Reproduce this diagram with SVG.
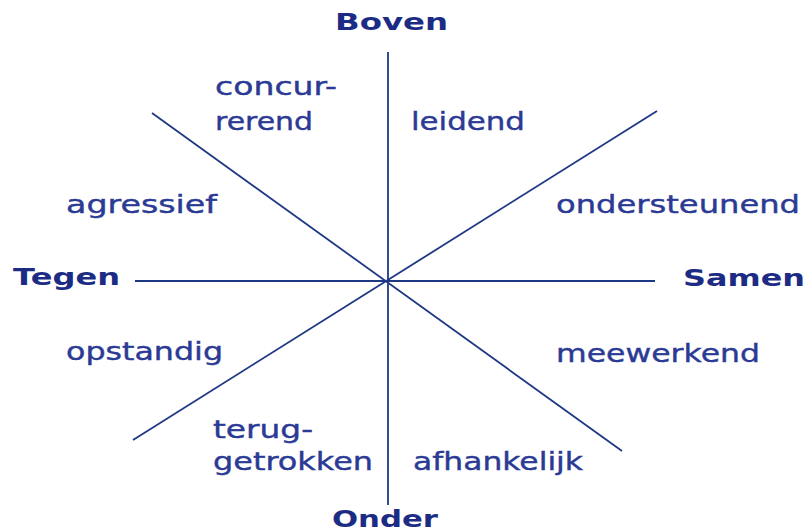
<svg xmlns="http://www.w3.org/2000/svg" width="810" height="532" viewBox="0 0 810 532">
<style>
.ax{fill:#1c2c84;font-family:"DejaVu Sans",Verdana,sans-serif;font-weight:bold;font-size:23px}
.lb{fill:#2b3a94;stroke:#2b3a94;stroke-width:0.4;font-family:"DejaVu Sans",Verdana,sans-serif;font-size:25px}
.ln{stroke:#1f3884;stroke-width:1.8;fill:none}
</style>
<rect width="810" height="532" fill="#ffffff"/>
<g id="connectors">
<line class="ln" x1="388" y1="52" x2="388" y2="505"/>
<line class="ln" x1="135" y1="281" x2="655" y2="281"/>
<line class="ln" x1="152" y1="113" x2="622" y2="451"/>
<line class="ln" x1="133" y1="440" x2="657" y2="111"/>
</g>
<g id="boven"><text class="ax" x="335" y="30" textLength="113" lengthAdjust="spacingAndGlyphs">Boven</text></g>
<g id="onder"><text class="ax" x="332" y="527" textLength="106" lengthAdjust="spacingAndGlyphs">Onder</text></g>
<g id="tegen"><text class="ax" x="13" y="285" textLength="107" lengthAdjust="spacingAndGlyphs">Tegen</text></g>
<g id="samen"><text class="ax" x="683" y="286" textLength="122" lengthAdjust="spacingAndGlyphs">Samen</text></g>
<g id="concurrerend">
<text class="lb" x="215" y="95" textLength="122" lengthAdjust="spacingAndGlyphs">concur-</text>
<text class="lb" x="215" y="130" textLength="98" lengthAdjust="spacingAndGlyphs">rerend</text>
</g>
<g id="leidend"><text class="lb" x="411" y="130" textLength="114" lengthAdjust="spacingAndGlyphs">leidend</text></g>
<g id="agressief"><text class="lb" x="66" y="213" textLength="151" lengthAdjust="spacingAndGlyphs">agressief</text></g>
<g id="ondersteunend"><text class="lb" x="556" y="213" textLength="244" lengthAdjust="spacingAndGlyphs">ondersteunend</text></g>
<g id="opstandig"><text class="lb" x="66" y="360" textLength="157" lengthAdjust="spacingAndGlyphs">opstandig</text></g>
<g id="meewerkend"><text class="lb" x="556" y="362" textLength="204" lengthAdjust="spacingAndGlyphs">meewerkend</text></g>
<g id="teruggetrokken">
<text class="lb" x="213" y="438" textLength="100" lengthAdjust="spacingAndGlyphs">terug-</text>
<text class="lb" x="213" y="470" textLength="160" lengthAdjust="spacingAndGlyphs">getrokken</text>
</g>
<g id="afhankelijk"><text class="lb" x="413" y="470" textLength="170" lengthAdjust="spacingAndGlyphs">afhankelijk</text></g>
</svg>
